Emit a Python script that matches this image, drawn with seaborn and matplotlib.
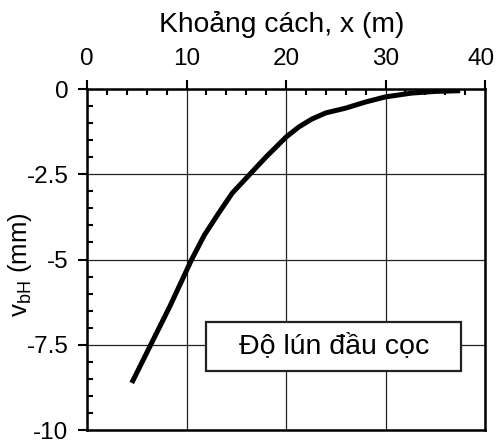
import matplotlib
matplotlib.use("Agg")
import matplotlib.pyplot as plt
import matplotlib.transforms as mtransforms
import seaborn as sns
import pandas as pd
from matplotlib.patches import Rectangle
from matplotlib.ticker import MultipleLocator

# Pile-head settlement versus distance
distance_m = [4.5, 6.3, 8.3, 10.5, 11.8, 13.3, 14.6, 16.3, 18.0, 20.0, 21.3,
              22.6, 24.0, 26.0, 28.0, 30.0, 32.6, 35.0, 37.5]
settlement_mm = [-8.62, -7.56, -6.39, -5.01, -4.28, -3.61, -3.05, -2.52, -1.99,
                 -1.41, -1.11, -0.88, -0.70, -0.56, -0.38, -0.23, -0.12, -0.07, -0.05]

x_ticks = [0, 10, 20, 30, 40]
y_ticks = [0, -2.5, -5, -7.5, -10]
y_tick_labels = ["0", "-2.5", "-5", "-7.5", "-10"]
label_text = "Độ lún đầu cọc"

sns.set_theme(style="ticks")
plt.rcParams["font.family"] = ["Liberation Sans", "DejaVu Sans"]
plt.rcParams["mathtext.fontset"] = "custom"
plt.rcParams["mathtext.rm"] = "Liberation Sans"
plt.rcParams["text.color"] = "black"
plt.rcParams["axes.labelcolor"] = "black"

df = pd.DataFrame({"x": distance_m, "v": settlement_mm})

fig = plt.figure(figsize=(4.98, 4.44), dpi=100)
ax = fig.add_axes([0.1747, 0.0315, 0.974 - 0.1747, 0.7995 - 0.0315])

sns.lineplot(data=df, x="x", y="v", ax=ax, color="black", linewidth=3.6,
             sort=True, zorder=4)
for ln in ax.lines:
    ln.set_solid_joinstyle("round")
    ln.set_solid_capstyle("butt")

ax.set_xlim(0, 40)
ax.set_ylim(-10, 0)
ax.set_xticks(x_ticks)
ax.set_yticks(y_ticks)
ax.set_yticklabels(y_tick_labels)
ax.xaxis.set_minor_locator(MultipleLocator(2))
ax.yaxis.set_minor_locator(MultipleLocator(0.5))

ax.xaxis.tick_top()
ax.xaxis.set_label_position("top")
ax.tick_params(axis="both", which="major", direction="out", length=6.5, width=1.5,
               labelsize=17.5, pad=7, colors="black")
ax.tick_params(axis="both", which="minor", direction="in", length=4.5, width=1.5,
               colors="black")
ax.tick_params(axis="x", which="both", top=True, bottom=False)
ax.tick_params(axis="y", which="both", left=True, right=False)

# keep the last top tick label inside the figure
last_lbl = ax.xaxis.get_major_ticks()[-1].label2
last_lbl.set_transform(last_lbl.get_transform()
                       + mtransforms.ScaledTranslation(-3 / 72, 0, fig.dpi_scale_trans))

ax.grid(True, which="major", color="#222222", linewidth=0.9)
for s in ax.spines.values():
    s.set_visible(True)
    s.set_linewidth(1.8)
    s.set_color("black")

ax.set_xlabel("Khoảng cách, x (m)", fontsize=20.3)
ax.xaxis.set_label_coords(0.49, 1.19)
ax.xaxis.label.set_va("center")
ax.set_ylabel(r"v$_{\mathrm{bH}}$ (mm)", fontsize=18.5)
ax.yaxis.set_label_coords(-0.168, 0.484)
ax.yaxis.label.set_va("center")

# Boxed caption
ax.add_patch(Rectangle((12.0, -8.27), 25.6, 1.44, facecolor="white",
                       edgecolor="#222222", linewidth=1.6, zorder=5))
ax.text(24.8, -7.55, label_text, ha="center", va="center", fontsize=20.5,
        color="black", zorder=6)

fig.savefig("out.png", dpi=100)
